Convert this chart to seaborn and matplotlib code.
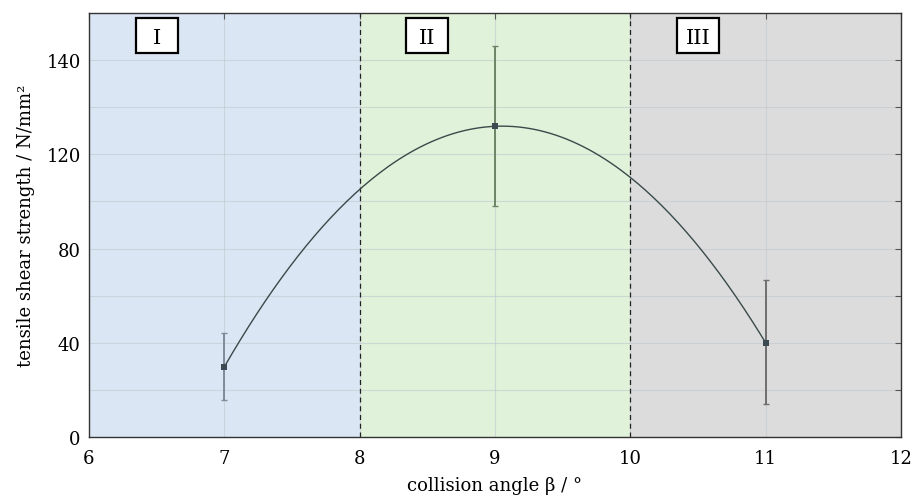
import numpy as np
import pandas as pd
import matplotlib
matplotlib.use("Agg")
import matplotlib.pyplot as plt
from matplotlib.patches import Rectangle
import seaborn as sns

# data
angles = [7, 9, 11]
strength = [29.8, 131.9, 40.0]
err_low = [15.7, 97.9, 14.0]
err_high = [44.0, 166.0, 66.8]
region_bounds = [6, 8, 10, 12]
region_names = ["I", "II", "III"]
region_colors = ["#dae6f4", "#e0f2d9", "#dcdcdc"]
errbar_colors = ["#7e8b98", "#6e8466", "#6f6f6f"]
label_x = [6.5, 8.5, 10.5]
label_y = 170.5
xticks = [6, 7, 8, 9, 10, 11, 12]
yticks_major = [0, 40, 80, 120, 160]
ytick_labels = ["0", "40", "80", "120", "140"]
yticks_minor = [20, 60, 100, 140]

sns.set_theme(style="white")
plt.rcParams["font.family"] = ["DejaVu Serif"]
plt.rcParams["text.color"] = "black"
plt.rcParams["axes.labelcolor"] = "black"
plt.rcParams["xtick.labelcolor"] = "black"
plt.rcParams["ytick.labelcolor"] = "black"
FS = 13

fig = plt.figure(figsize=(9.15, 5.02), dpi=100)
ax = fig.add_axes([89/915, 1 - 438/502, (901-89)/915, (438-14)/502])

for i in range(3):
    ax.axvspan(region_bounds[i], region_bounds[i+1], color=region_colors[i], zorder=0, lw=0)

ax.set_xlim(6, 12)
ax.set_ylim(0, 180)
ax.set_xticks(xticks)
ax.set_yticks(yticks_major)
ax.set_yticklabels(ytick_labels)
ax.set_yticks(yticks_minor, minor=True)
ax.grid(True, which="both", color="#bfc8cf", lw=0.8, alpha=0.6, zorder=1)
ax.set_axisbelow(True)

for b in region_bounds[1:3]:
    ax.axvline(b, color="#222222", lw=0.9, ls=(0, (4, 3)), zorder=2)

# quadratic fit through the measurements
coef = np.polyfit(angles, strength, 2)
xs = np.linspace(angles[0], angles[-1], 200)
fit = pd.DataFrame({"x": xs, "y": np.polyval(coef, xs)})
sns.lineplot(data=fit, x="x", y="y", ax=ax, color="#3a4a4a", lw=1.0, zorder=4)

for i in range(3):
    x = angles[i]
    ax.errorbar([x], [strength[i]],
                yerr=[[strength[i] - err_low[i]], [err_high[i] - strength[i]]],
                fmt="none", ecolor=errbar_colors[i], elinewidth=1.4, capsize=2.5, capthick=1.0, zorder=3)
df = pd.DataFrame({"a": angles, "s": strength})
sns.scatterplot(data=df, x="a", y="s", ax=ax, marker="s", s=20, color="#3c4a52", edgecolor="none", zorder=5)

bw = 42 / ((901 - 89) / 6)
bh = 35 / ((438 - 14) / 180)
for i in range(3):
    ax.add_patch(Rectangle((label_x[i] - bw/2, label_y - bh/2), bw, bh, fc="white",
                           ec="black", lw=1.6, zorder=6))
    ax.text(label_x[i], label_y, region_names[i], ha="center", va="center_baseline",
            fontsize=15, zorder=7)

ax.set_xlabel("collision angle β / °", fontsize=FS, labelpad=6)
ax.set_ylabel("tensile shear strength / N/mm²", fontsize=FS, labelpad=8)
ax.tick_params(axis="both", which="both", direction="in", top=True, right=True,
               labelsize=FS, length=4, width=0.8, color="#555555")
ax.tick_params(axis="x", pad=9)
ax.tick_params(axis="y", pad=6)
for sp in ax.spines.values():
    sp.set_visible(True)
    sp.set_color("#333333")
    sp.set_linewidth(1.0)

fig.savefig("out.png", dpi=100)
